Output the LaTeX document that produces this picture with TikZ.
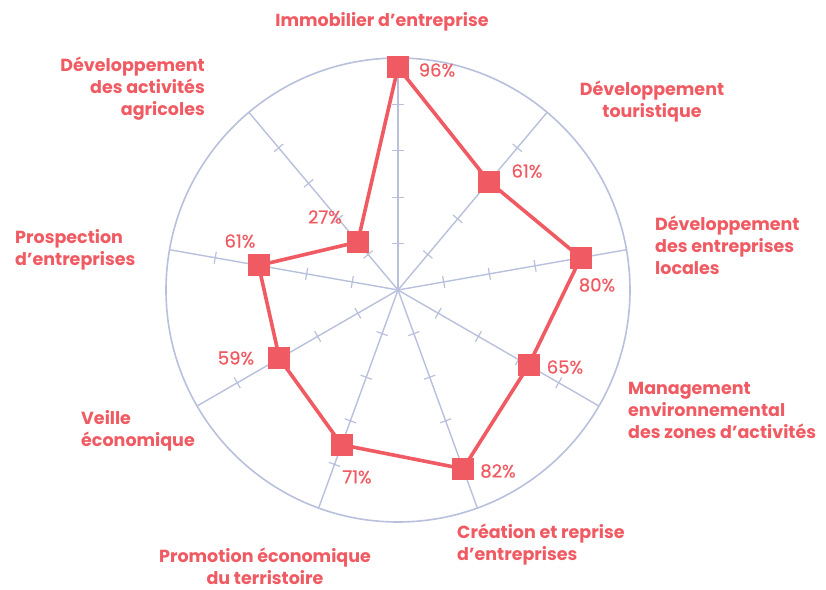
\documentclass[tikz,border=0pt]{standalone}
\usepackage{fontspec}
\setmainfont{Poppins}
\newfontfamily\pctfont{Poppins}[FakeBold=0.6]
\usepackage{xcolor}
\usetikzlibrary{positioning,calc,decorations.markings}

\definecolor{radarred}{HTML}{F05A62}
\definecolor{gridblue}{HTML}{B8C0DC}

\begin{document}
\begin{tikzpicture}[x=1pt, y=1pt]
% Define styles
\tikzstyle{axis} = [draw=gridblue, line width=1.4pt, postaction={decorate}, decoration={markings,
  mark=at position 0.2 with {\draw[gridblue, line width=1.2pt] (0,-6) -- (0,6);},
  mark=at position 0.4 with {\draw[gridblue, line width=1.2pt] (0,-6) -- (0,6);},
  mark=at position 0.6 with {\draw[gridblue, line width=1.2pt] (0,-6) -- (0,6);},
  mark=at position 0.8 with {\draw[gridblue, line width=1.2pt] (0,-6) -- (0,6);}}]
\tikzstyle{profile} = [draw=radarred, line width=3.6pt, line join=miter]
\tikzstyle{marker} = [rectangle, fill=radarred, minimum size=22pt, inner sep=0pt]
\tikzstyle{pct} = [text=radarred, font=\fontsize{18}{22}\selectfont\pctfont, inner sep=0pt]
\tikzstyle{label} = [text=radarred, font=\fontsize{17.5}{22}\selectfont\bfseries, inner sep=0pt]

\useasboundingbox (-398,-299) rectangle (428,290);

% Grid
\coordinate (center) at (0,0);
\draw[gridblue, line width=1.6pt] (center) circle (232);
\coordinate (a1) at (90:232);
\coordinate (a2) at (50:232);
\coordinate (a3) at (10:232);
\coordinate (a4) at (-30:232);
\coordinate (a5) at (-70:232);
\coordinate (a6) at (-110:232);
\coordinate (a7) at (-150:232);
\coordinate (a8) at (170:232);
\coordinate (a9) at (130:232);
\draw[axis] (center) -- (a1);
\draw[axis] (center) -- (a2);
\draw[axis] (center) -- (a3);
\draw[axis] (center) -- (a4);
\draw[axis] (center) -- (a5);
\draw[axis] (center) -- (a6);
\draw[axis] (center) -- (a7);
\draw[axis] (center) -- (a8);
\draw[axis] (center) -- (a9);

% Values
\coordinate (p1) at ($(center)!0.96!(a1)$);
\coordinate (p2) at ($(center)!0.61!(a2)$);
\coordinate (p3) at ($(center)!0.80!(a3)$);
\coordinate (p4) at ($(center)!0.65!(a4)$);
\coordinate (p5) at ($(center)!0.82!(a5)$);
\coordinate (p6) at ($(center)!0.71!(a6)$);
\coordinate (p7) at ($(center)!0.59!(a7)$);
\coordinate (p8) at ($(center)!0.61!(a8)$);
\coordinate (p9) at ($(center)!0.27!(a9)$);
\draw[profile] (p1) -- (p2) -- (p3) -- (p4) -- (p5) -- (p6) -- (p7) -- (p8) -- (p9) -- cycle;
\node[marker] (m1) at (p1) {};
\node[marker] (m2) at (p2) {};
\node[marker] (m3) at (p3) {};
\node[marker] (m4) at (p4) {};
\node[marker] (m5) at (p5) {};
\node[marker] (m6) at (p6) {};
\node[marker] (m7) at (p7) {};
\node[marker] (m8) at (p8) {};
\node[marker] (m9) at (p9) {};

% Percentages
\node[pct] (v1) at (39,220) {96\%};
\node[pct] (v2) at (129,119) {61\%};
\node[pct] (v3) at (199,5) {80\%};
\node[pct] (v4) at (167,-77) {65\%};
\node[pct] (v5) at (100,-181) {82\%};
\node[pct] (v6) at (-41,-187) {71\%};
\node[pct] (v7) at (-162,-68) {59\%};
\node[pct] (v8) at (-158,49) {61\%};
\node[pct] (v9) at (-73,73) {27\%};

% Axis labels
\node[label] (immo) at (-16,268) {Immobilier d’entreprise};
\node[label, align=center] (touri) at (254,188) {Développement\\touristique};
\node[label, align=left, anchor=west] (locales) at (257,45) {Développement\\des entreprises\\locales};
\node[label, align=left, anchor=west] (manage) at (230,-120) {Management\\environnemental\\des zones d’activités};
\node[label, align=left, anchor=west] (creation) at (59,-255) {Création et reprise\\d’entreprises};
\node[label, align=center] (promo) at (-133,-276) {Promotion économique\\du terristoire};
\node[label, align=left, anchor=west] (veille) at (-317,-141) {Veille\\économique};
\node[label, align=left, anchor=west] (prosp) at (-383,40) {Prospection\\d’entreprises};
\node[label, align=right, anchor=east] (agri) at (-193,201) {Développement\\des activités\\agricoles};

\end{tikzpicture}
\end{document}
